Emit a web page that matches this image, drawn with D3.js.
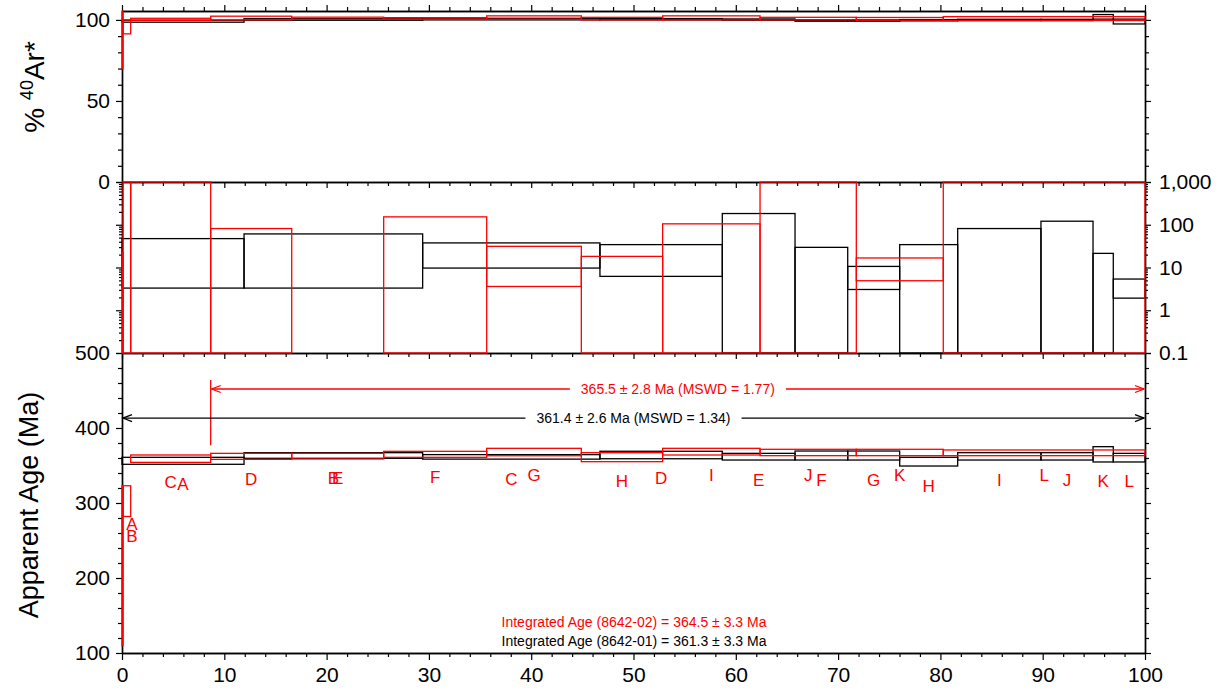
<!DOCTYPE html>
<html><head><meta charset="utf-8">
<script src="https://cdn.jsdelivr.net/npm/d3@7"></script>
<style>
html,body{margin:0;padding:0;background:#fff;}
svg{display:block;font-family:"Liberation Sans",Arial,Helvetica,sans-serif;}
</style></head>
<body>
<svg id="chart" width="1229" height="690"></svg>
<script>
// ---------------- DATA ----------------
const stepLetters = ["A","B","C","D","E","F","G","H","I","J","K","L"];

// Sample 8642-01 (black): cumulative %39Ar step boundaries
const blackBounds = [0, 11.93, 29.39, 46.72, 58.68, 65.79, 70.94, 76.02, 81.69, 89.83, 94.92, 96.9, 100];
const blackAgeLo  = [351.6, 359.6, 358.5, 359.0, 357.3, 357.3, 357.3, 349.3, 357.3, 357.3, 354.7, 354.7];
const blackAgeHi  = [360.9, 367.1, 364.5, 369.0, 366.2, 369.3, 369.3, 360.9, 367.1, 367.1, 375.1, 366.2];
const blackKCaLo  = [3.3, 3.3, 9.7, 6.2, 0.01, 0.01, 3.06, 0.01, 0.01, 0.01, 0.01, 1.92];
const blackKCaHi  = [47.4, 61, 37.6, 34.3, 183, 29.6, 10.6, 34.3, 81.5, 121, 21.4, 5.37];
const blackArLo   = [98.6, 99.8, 100.0, 100.0, 99.8, 99.2, 99.2, 99.4, 99.6, 99.6, 100.5, 97.5];
const blackArHi   = [99.8, 100.8, 101.0, 100.8, 100.6, 100.0, 100.0, 100.2, 100.4, 100.4, 103.3, 100.5];

// Sample 8642-02 (red)
const redBounds = [0, 0.1, 0.85, 8.67, 16.59, 25.58, 35.65, 44.9, 52.85, 62.37, 71.78, 80.28, 100];
const redAgeLo  = [110, 282, 354.2, 358.2, 358.7, 360.9, 363.0, 355.1, 364.0, 363.1, 363.1, 363.1];
const redAgeHi  = [323, 323, 364.0, 366.2, 366.2, 368.9, 372.9, 367.1, 372.9, 371.6, 371.6, 370.7];
const redKCaLo  = [0.01, 0.01, 0.01, 0.01, 0.01, 0.01, 3.6, 0.01, 0.01, 0.01, 4.9, 0.01];
const redKCaHi  = [22.2, 5000, 5000, 81.5, 0.05, 153, 31.3, 18.2, 105, 5000, 16.7, 5000];
const redArLo   = [69.8, 91.4, 99.8, 100.0, 100.4, 100.4, 100.4, 100.0, 100.0, 100.0, 99.8, 99.6];
const redArHi   = [106, 100.0, 101.0, 102.3, 101.7, 101.4, 102.5, 101.6, 102.5, 101.6, 101.5, 102.0];

// Plateaus
const plateauText  = ["365.5 \u00b1 2.8 Ma (MSWD = 1.77)", "361.4 \u00b1 2.6 Ma (MSWD = 1.34)"];
const plateauFrom  = [8.67, 0];
const plateauTo    = [100, 100];
const plateauAgeY  = [452, 413.3];
const plateauColor = ["#ff0000", "#000000"];
const integratedText = ["Integrated Age (8642-02) = 364.5 \u00b1 3.3 Ma", "Integrated Age (8642-01) = 361.3 \u00b1 3.3 Ma"];

// Axis ticks
const xTicks = d3.range(0, 101, 10);
const arTicks = [0, 50, 100];
const kcaTicks = [0.1, 1, 10, 100, 1000];
const ageTicks = [100, 200, 300, 400, 500];

// ---------------- SCALES ----------------
const svg = d3.select("#chart");
const X0 = 122, X1 = 1145;
const x = d3.scaleLinear().domain([0, 100]).range([X0, X1]);
const yAr = d3.scaleLinear().domain([0, 105.5]).range([182, 11]);
const yK = d3.scaleLog().domain([0.1, 1000]).range([353, 182]);
const yAge = d3.scaleLinear().domain([100, 500]).range([653, 353]);

const clampTo = (s, v) => { const d = s.domain(); return Math.max(d[0], Math.min(d[1], v)); };

// ---------------- AXES ----------------
const FS = 21;
function styleAxis(g) {
  g.selectAll("path.domain").attr("stroke", "#000").attr("stroke-width", 1.4);
  g.selectAll(".tick line").attr("stroke", "#000").attr("stroke-width", 1.2);
  g.selectAll("text").attr("font-size", FS).attr("fill", "#000")
    .attr("font-family", '"Liberation Sans",Arial,Helvetica,sans-serif');
}
function addAxis(axis, tx, ty) {
  const g = svg.append("g").attr("transform", `translate(${tx},${ty})`).call(axis);
  styleAxis(g);
  return g;
}
const xMinor = d3.range(0, 101, 2).filter(v => v % 10 !== 0);

[[11, "top"], [182, "bottom"], [353, "bottom"], [653, "bottom"]].forEach(([yy, side]) => {
  const mk = side === "top" ? d3.axisTop : d3.axisBottom;
  const labeled = yy === 653;
  addAxis(mk(x).tickValues(xTicks).tickSize(labeled ? 7 : 6).tickSizeOuter(0).tickPadding(7)
    .tickFormat(labeled ? d3.format("d") : () => ""), 0, yy);
  addAxis(mk(x).tickValues(xMinor).tickSize(4).tickSizeOuter(0).tickFormat(() => ""), 0, yy);
});

const arMinor = d3.range(10, 100, 10).filter(v => v !== 50);
addAxis(d3.axisLeft(yAr).tickValues(arTicks).tickSize(6).tickPadding(6).tickSizeOuter(0).tickFormat(d3.format("d")), X0, 0);
addAxis(d3.axisLeft(yAr).tickValues(arMinor).tickSize(4).tickSizeOuter(0).tickFormat(() => ""), X0, 0);
addAxis(d3.axisRight(yAr).tickValues(arTicks).tickSize(6).tickSizeOuter(0).tickFormat(() => ""), X1, 0);
addAxis(d3.axisRight(yAr).tickValues(arMinor).tickSize(4).tickSizeOuter(0).tickFormat(() => ""), X1, 0);

const kMinor = [];
[0.1, 1, 10, 100].forEach(d => { for (let m = 2; m <= 9; m++) kMinor.push(d * m); });
addAxis(d3.axisLeft(yK).tickValues(kcaTicks).tickSize(6).tickSizeOuter(0).tickFormat(() => ""), X0, 0);
addAxis(d3.axisLeft(yK).tickValues(kMinor).tickSize(3).tickSizeOuter(0).tickFormat(() => ""), X0, 0);
addAxis(d3.axisRight(yK).tickValues(kcaTicks).tickSize(6).tickPadding(8).tickSizeOuter(0).tickFormat(d3.format(",")), X1, 0);
addAxis(d3.axisRight(yK).tickValues(kMinor).tickSize(3).tickSizeOuter(0).tickFormat(() => ""), X1, 0);

const ageMinor = d3.range(120, 500, 20).filter(v => v % 100 !== 0);
addAxis(d3.axisLeft(yAge).tickValues(ageTicks).tickSize(6).tickPadding(6).tickSizeOuter(0).tickFormat(d3.format("d")), X0, 0);
addAxis(d3.axisLeft(yAge).tickValues(ageMinor).tickSize(4).tickSizeOuter(0).tickFormat(() => ""), X0, 0);
addAxis(d3.axisRight(yAge).tickValues(ageTicks).tickSize(6).tickSizeOuter(0).tickFormat(() => ""), X1, 0);
addAxis(d3.axisRight(yAge).tickValues(ageMinor).tickSize(4).tickSizeOuter(0).tickFormat(() => ""), X1, 0);

// ---------------- BOXES ----------------
function drawBoxes(bounds, lo, hi, yScale, color) {
  const rows = lo.map((v, i) => ({ x0: bounds[i], x1: bounds[i + 1], lo: clampTo(yScale, v), hi: clampTo(yScale, hi[i]) }));
  svg.append("g").selectAll("rect").data(rows).join("rect")
    .attr("x", d => x(d.x0)).attr("width", d => x(d.x1) - x(d.x0))
    .attr("y", d => yScale(d.hi)).attr("height", d => Math.max(0, yScale(d.lo) - yScale(d.hi)))
    .attr("fill", "none").attr("stroke", color).attr("stroke-width", 1.3);
}
drawBoxes(blackBounds, blackArLo, blackArHi, yAr, "#000");
drawBoxes(blackBounds, blackKCaLo, blackKCaHi, yK, "#000");
drawBoxes(blackBounds, blackAgeLo, blackAgeHi, yAge, "#000");
drawBoxes(redBounds, redArLo, redArHi, yAr, "#ff0000");
drawBoxes(redBounds, redKCaLo, redKCaHi, yK, "#ff0000");
drawBoxes(redBounds, redAgeLo, redAgeHi, yAge, "#ff0000");

// ---------------- STEP LABELS ----------------
function stepLabels(bounds, lo) {
  const out = lo.map((v, i) => {
    const cx = Math.max(x((bounds[i] + bounds[i + 1]) / 2), X0 + 10);
    return { cx, cy: yAge(v) + 20, narrow: x(bounds[i + 1]) - x(bounds[i]) < 4, t: stepLetters[i] };
  });
  for (let i = out.length - 2; i >= 0; i--) {
    if (out[i].narrow && out[i].cy > out[i + 1].cy) out[i].cy = out[i + 1].cy - 12;
  }
  return out;
}
const labelData = stepLabels(blackBounds, blackAgeLo).concat(stepLabels(redBounds, redAgeLo));
svg.append("g").selectAll("text").data(labelData).join("text")
  .attr("x", d => d.cx).attr("y", d => d.cy)
  .attr("text-anchor", "middle").attr("dominant-baseline", "central")
  .attr("font-size", 17).attr("fill", "#ff0000").text(d => d.t);

// ---------------- PLATEAUS ----------------
plateauText.forEach((t, i) => {
  const yy = yAge(plateauAgeY[i]);
  const xa = x(plateauFrom[i]), xb = x(plateauTo[i]);
  const col = plateauColor[i];
  const g = svg.append("g");
  const txt = g.append("text").attr("x", (xa + xb) / 2).attr("y", yy)
    .attr("text-anchor", "middle").attr("dominant-baseline", "central")
    .attr("font-size", 14).attr("fill", col).text(t);
  const w = txt.node().getComputedTextLength();
  const gap = 11;
  const m = (xa + xb) / 2;
  g.append("line").attr("x1", xa + 1).attr("x2", m - w / 2 - gap).attr("y1", yy).attr("y2", yy)
    .attr("stroke", col).attr("stroke-width", 1.3);
  g.append("line").attr("x1", m + w / 2 + gap).attr("x2", xb - 1).attr("y1", yy).attr("y2", yy)
    .attr("stroke", col).attr("stroke-width", 1.3);
  g.append("path").attr("d", `M${xa + 10},${yy - 3.5}L${xa + 1},${yy}L${xa + 10},${yy + 3.5}`)
    .attr("fill", "none").attr("stroke", col).attr("stroke-width", 1.3);
  g.append("path").attr("d", `M${xb - 10},${yy - 3.5}L${xb - 1},${yy}L${xb - 10},${yy + 3.5}`)
    .attr("fill", "none").attr("stroke", col).attr("stroke-width", 1.3);
  if (plateauFrom[i] > 0) {
    g.append("line").attr("x1", xa).attr("x2", xa)
      .attr("y1", yAge(plateauAgeY[i] + 12)).attr("y2", yAge(plateauAgeY[i] - 75))
      .attr("stroke", col).attr("stroke-width", 1.3);
  }
});

// ---------------- INTEGRATED AGES ----------------
svg.append("g").selectAll("text").data(integratedText).join("text")
  .attr("x", (x(36.6) + x(63.5)) / 2).attr("y", (d, i) => 627 + i * 19)
  .attr("text-anchor", "middle").attr("font-size", 14)
  .attr("fill", (d, i) => i === 0 ? "#ff0000" : "#000").text(d => d);

// ---------------- AXIS TITLES ----------------
const t1 = svg.append("text").attr("transform", "translate(44,87) rotate(-90)")
  .attr("text-anchor", "middle").attr("font-size", 28).attr("fill", "#000");
t1.append("tspan").text("% ");
t1.append("tspan").attr("font-size", 18).attr("dy", -11).text("40");
t1.append("tspan").attr("dy", 11).text("Ar*");

svg.append("text").attr("transform", "translate(38,505) rotate(-90)")
  .attr("text-anchor", "middle").attr("font-size", 27).attr("fill", "#000")
  .text("Apparent Age (Ma)");
</script>
</body></html>
